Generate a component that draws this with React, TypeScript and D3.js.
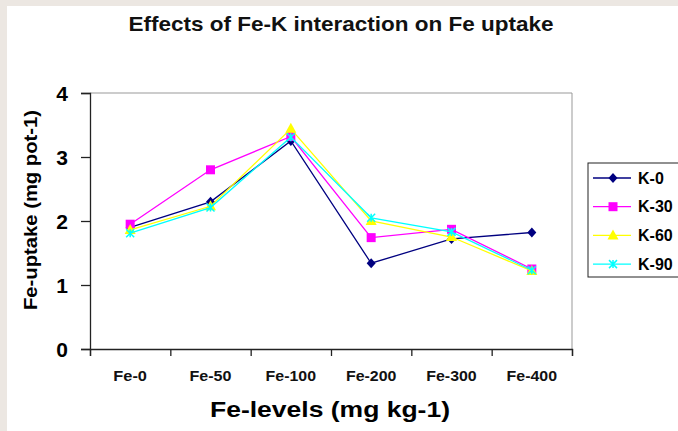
import { useRef, useEffect } from 'react'
import * as d3 from 'd3'

const levels = ['Fe-0', 'Fe-50', 'Fe-100', 'Fe-200', 'Fe-300', 'Fe-400']
const seriesNames = ['K-0', 'K-30', 'K-60', 'K-90']
const k0 = [1.9, 2.3, 3.25, 1.34, 1.72, 1.82]
const k30 = [1.95, 2.8, 3.32, 1.74, 1.87, 1.25]
const k60 = [1.86, 2.23, 3.44, 2.0, 1.75, 1.22]
const k90 = [1.81, 2.21, 3.31, 2.05, 1.83, 1.23]
const yTicks = [0, 1, 2, 3, 4]
const colors = ['#000080', '#ff00ff', '#ffff00', '#00ffff']
const shapes = ['diamond', 'square', 'triangle', 'cross']

const W = 678
const H = 431
const FONT = '"Liberation Sans", Arial, sans-serif'

const drawMarker = (g, shape, color, x, y) => {
  if (shape === 'diamond') {
    g.append('path').attr('d', `M${x},${y - 5}L${x + 4.5},${y}L${x},${y + 5}L${x - 4.5},${y}Z`).attr('fill', color)
  } else if (shape === 'square') {
    g.append('rect').attr('x', x - 4.5).attr('y', y - 4.5).attr('width', 9).attr('height', 9).attr('fill', color)
  } else if (shape === 'triangle') {
    g.append('path').attr('d', `M${x},${y - 6}L${x + 5.5},${y + 4}L${x - 5.5},${y + 4}Z`).attr('fill', color)
  } else {
    g.append('path')
      .attr('d', `M${x - 4},${y - 4}L${x + 4},${y + 4}M${x - 4},${y + 4}L${x + 4},${y - 4}M${x},${y - 4}L${x},${y + 4}`)
      .attr('stroke', color).attr('stroke-width', 1.5).attr('fill', 'none')
  }
}

const App = () => {
  const ref = useRef(null)

  useEffect(() => {
    const svg = d3.select(ref.current)
    svg.selectAll('*').remove()

    svg.append('rect').attr('width', W).attr('height', H).attr('fill', '#ece7e2')
    svg.append('rect').attr('x', 7).attr('y', 6).attr('width', W - 7).attr('height', H - 6).attr('fill', '#ffffff')

    const left = 90, right = 572, top = 93, bottom = 349
    const x = d3.scaleBand().domain(levels).range([left, right])
    const y = d3.scaleLinear().domain([0, 4]).range([bottom, top])

    // title
    svg.append('text').attr('x', 341).attr('y', 31).attr('text-anchor', 'middle')
      .attr('font-family', FONT).attr('font-size', 21).attr('font-weight', 'bold')
      .attr('textLength', 425).attr('lengthAdjust', 'spacingAndGlyphs')
      .attr('fill', '#111').text('Effects of Fe-K interaction on Fe uptake')

    // plot frame: gray top/right
    svg.append('path').attr('d', `M${left},${top}H${right}V${bottom}`)
      .attr('stroke', '#999').attr('stroke-width', 1).attr('fill', 'none')

    const yAxis = svg.append('g').attr('transform', `translate(${left},0)`)
      .call(d3.axisLeft(y).tickValues(yTicks).tickSize(9).tickFormat(d3.format('d')))
    yAxis.select('.domain').attr('stroke', '#222').attr('stroke-width', 1.3)
    yAxis.selectAll('.tick line').attr('stroke', '#222').attr('stroke-width', 1.3)
    yAxis.selectAll('.tick text').attr('font-family', FONT).attr('font-size', 21).attr('font-weight', 'bold')
      .attr('fill', '#000').attr('x', -22).attr('dy', '0.36em')

    const xAxis = svg.append('g').attr('transform', `translate(0,${bottom})`)
      .call(d3.axisBottom(d3.scaleLinear().domain([0, 6]).range([left, right])).ticks(6).tickSize(7).tickFormat(() => ''))
    xAxis.select('.domain').attr('stroke', '#222').attr('stroke-width', 1.3)
    xAxis.selectAll('.tick line').attr('stroke', '#222').attr('stroke-width', 1.3)

    svg.append('g').selectAll('text').data(levels).join('text')
      .attr('x', (d) => x(d) + x.bandwidth() / 2).attr('y', 381).attr('text-anchor', 'middle')
      .attr('font-family', FONT).attr('font-size', 14).attr('font-weight', 'bold').attr('fill', '#111')
      .attr('textLength', (d) => d.length * 8.4).attr('lengthAdjust', 'spacingAndGlyphs')
      .text((d) => d)

    svg.append('text').attr('x', 330).attr('y', 417).attr('text-anchor', 'middle')
      .attr('font-family', FONT).attr('font-size', 22).attr('font-weight', 'bold').attr('fill', '#000')
      .attr('textLength', 240).attr('lengthAdjust', 'spacingAndGlyphs')
      .text('Fe-levels (mg kg-1)')

    svg.append('text').attr('transform', 'translate(37,210) rotate(-90)').attr('text-anchor', 'middle')
      .attr('font-family', FONT).attr('font-size', 18).attr('font-weight', 'bold').attr('fill', '#000')
      .attr('textLength', 200).attr('lengthAdjust', 'spacingAndGlyphs')
      .text('Fe-uptake  (mg pot-1)')

    const allSeries = [k0, k30, k60, k90]
    const line = d3.line().x((_, i) => x(levels[i]) + x.bandwidth() / 2).y((d) => y(d))
    allSeries.forEach((vals, s) => {
      const g = svg.append('g')
      g.append('path').attr('d', line(vals)).attr('stroke', colors[s]).attr('stroke-width', 1.3).attr('fill', 'none')
      vals.forEach((v, i) => drawMarker(g, shapes[s], colors[s], x(levels[i]) + x.bandwidth() / 2, y(v)))
    })

    // legend
    const lg = svg.append('g')
    lg.append('rect').attr('x', 588).attr('y', 163).attr('width', 96).attr('height', 114)
      .attr('fill', '#fff').attr('stroke', '#222').attr('stroke-width', 1)
    seriesNames.forEach((name, s) => {
      const ly = 178 + s * 28.7
      lg.append('line').attr('x1', 593).attr('x2', 631).attr('y1', ly).attr('y2', ly)
        .attr('stroke', colors[s]).attr('stroke-width', 1.3)
      drawMarker(lg, shapes[s], colors[s], 613, ly)
      lg.append('text').attr('x', 638).attr('y', ly).attr('dy', '0.36em')
        .attr('font-family', FONT).attr('font-size', 16).attr('font-weight', 'bold').attr('fill', '#000')
        .text(name)
    })
  }, [])

  return (
    <div style={{ position: 'fixed', left: 0, top: 0, width: W, height: H }}>
      <svg ref={ref} width={W} height={H} viewBox={`0 0 ${W} ${H}`} style={{ display: 'block' }} />
    </div>
  )
}

export default App
